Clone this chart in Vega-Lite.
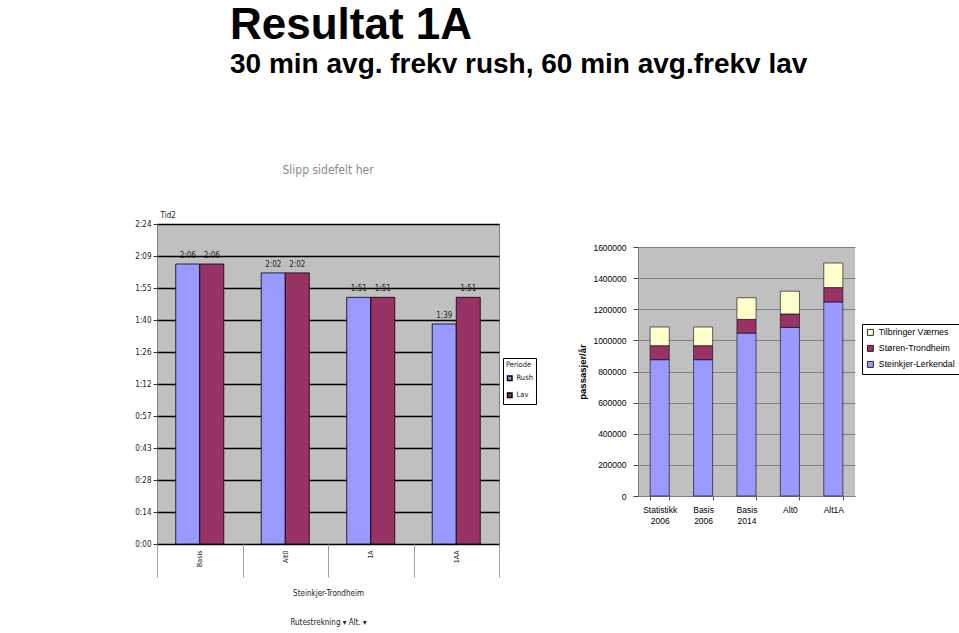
{
  "$schema": "https://vega.github.io/schema/vega-lite/v6.json",
  "background": "white",
  "padding": {"left": 134, "top": 3, "right": 0, "bottom": 0},
  "config": {"font": "Liberation Sans"},
  "resolve": {"scale": {"color": "independent"}, "legend": {"color": "independent"}},
  "title": {
    "text": "Resultat 1A",
    "subtitle": "30 min avg. frekv rush, 60 min avg.frekv lav",
    "anchor": "start",
    "frame": "group",
    "dx": 73,
    "font": "Liberation Sans",
    "fontSize": 44,
    "fontWeight": "bold",
    "color": "black",
    "subtitleFont": "Liberation Sans",
    "subtitleFontSize": 28,
    "subtitleFontWeight": "bold",
    "subtitleColor": "black",
    "subtitlePadding": 3,
    "offset": 85
  },
  "spacing": 40,
  "hconcat": [
    {
      "width": 342,
      "height": 320,
      "title": {"text": "Slipp sidefelt her", "fontSize": 12, "fontWeight": "normal", "color": "#8a8a8a", "font": "Liberation Sans Narrow, DejaVu Sans Condensed, Liberation Sans, sans-serif", "offset": 34},
      "data": {
        "values": [
          {"Scenario": "Basis", "Periode": "Rush", "Tid": 126},
          {"Scenario": "Basis", "Periode": "Lav", "Tid": 126},
          {"Scenario": "Alt0", "Periode": "Rush", "Tid": 122},
          {"Scenario": "Alt0", "Periode": "Lav", "Tid": 122},
          {"Scenario": "1A", "Periode": "Rush", "Tid": 111},
          {"Scenario": "1A", "Periode": "Lav", "Tid": 111},
          {"Scenario": "1AA", "Periode": "Rush", "Tid": 99},
          {"Scenario": "1AA", "Periode": "Lav", "Tid": 111}
        ]
      },
      "transform": [
        {"calculate": "floor(datum.Tid/60) + ':' + (datum.Tid % 60 < 10 ? '0' : '') + (datum.Tid % 60)", "as": "lbl"}
      ],
      "encoding": {
        "x": {
          "field": "Scenario", "type": "nominal", "sort": ["Basis", "Alt0", "1A", "1AA"],
          "scale": {"paddingInner": 0, "paddingOuter": 0},
          "axis": {
            "title": ["Steinkjer-Trondheim", "Rutestrekning ▾  Alt. ▾"],
            "titleFont": "Liberation Sans Narrow, DejaVu Sans Condensed, Liberation Sans, sans-serif", "titleFontSize": 8, "titleFontWeight": "normal",
            "titleLineHeight": 29, "titlePadding": 12, "titleColor": "#222",
            "labelAngle": 270, "labelAlign": "right", "labelBaseline": "middle",
            "labelFontSize": 7, "labelFont": "Liberation Sans Narrow, DejaVu Sans Condensed, Liberation Sans, sans-serif", "labelColor": "#222", "labelPadding": -27,
            "tickBand": "extent", "tickSize": 33, "tickColor": "#a0a0a0", "domain": false, "grid": false
          }
        },
        "xOffset": {"field": "Periode", "type": "nominal", "sort": ["Rush", "Lav"], "scale": {"paddingOuter": 0.78, "paddingInner": 0}},
        "y": {
          "field": "Tid", "type": "quantitative",
          "scale": {"domain": [0, 144], "nice": false},
          "axis": {
            "title": "Tid2", "titleAngle": 0, "titleAlign": "left", "titleBaseline": "bottom",
            "titleX": 3, "titleY": -5, "titleFontSize": 8, "titleFontWeight": "normal",
            "titleFont": "Liberation Sans Narrow, DejaVu Sans Condensed, Liberation Sans, sans-serif", "titleColor": "#222",
            "values": [0, 14.4, 28.8, 43.2, 57.6, 72, 86.4, 100.8, 115.2, 129.6, 144],
            "labelExpr": "floor(datum.value/60) + ':' + (floor(datum.value % 60 + 0.001) < 10 ? '0' : '') + floor(datum.value % 60 + 0.001)",
            "labelFont": "Liberation Sans Narrow, DejaVu Sans Condensed, Liberation Sans, sans-serif", "labelFontSize": 8, "labelColor": "#222", "labelPadding": 2,
            "grid": true, "gridColor": "black", "gridWidth": 1.3, "domain": false,
            "tickColor": "#333", "tickSize": 4
          }
        }
      },
      "layer": [
        {
          "mark": {"type": "bar", "stroke": "black", "strokeWidth": 0.8},
          "encoding": {
            "color": {
              "field": "Periode", "type": "nominal",
              "scale": {"domain": ["Rush", "Lav"], "range": ["#9999FF", "#993366"]},
              "legend": {
                "title": "Periode", "orient": "none", "legendX": 346, "legendY": 134,
                "strokeColor": "black", "fillColor": "white", "padding": 3,
                "titleFont": "Liberation Sans Narrow, DejaVu Sans Condensed, Liberation Sans, sans-serif", "titleFontSize": 7.5, "titleFontWeight": "normal", "titleColor": "#222", "titlePadding": 6,
                "labelFont": "Liberation Sans Narrow, DejaVu Sans Condensed, Liberation Sans, sans-serif", "labelFontSize": 7.5, "labelColor": "#222", "labelOffset": 3,
                "symbolType": "square", "symbolSize": 20, "rowPadding": 6
              }
            }
          }
        },
        {
          "mark": {"type": "text", "baseline": "bottom", "dy": -4, "fontSize": 8, "font": "Liberation Sans Narrow, DejaVu Sans Condensed, Liberation Sans, sans-serif", "color": "#222"},
          "encoding": {"text": {"field": "lbl"}}
        }
      ],
      "view": {"fill": "#C0C0C0", "stroke": "#808080"}
    },
    {
      "spacing": 0,
      "vconcat": [
        {
          "width": 217,
          "height": 19,
          "data": {"values": [{}]},
          "mark": "text",
          "encoding": {"text": {"value": ""}},
          "view": {"stroke": null}
        },
        {
          "width": 217,
          "height": 249,
          "data": {
            "values": [
              {"Kategori": "Statistikk 2006", "Strekning": "Steinkjer-Lerkendal", "Passasjerer": 876000},
              {"Kategori": "Statistikk 2006", "Strekning": "Støren-Trondheim", "Passasjerer": 90000},
              {"Kategori": "Statistikk 2006", "Strekning": "Tilbringer Værnes", "Passasjerer": 120000},
              {"Kategori": "Basis 2006", "Strekning": "Steinkjer-Lerkendal", "Passasjerer": 876000},
              {"Kategori": "Basis 2006", "Strekning": "Støren-Trondheim", "Passasjerer": 90000},
              {"Kategori": "Basis 2006", "Strekning": "Tilbringer Værnes", "Passasjerer": 120000},
              {"Kategori": "Basis 2014", "Strekning": "Steinkjer-Lerkendal", "Passasjerer": 1047000},
              {"Kategori": "Basis 2014", "Strekning": "Støren-Trondheim", "Passasjerer": 88000},
              {"Kategori": "Basis 2014", "Strekning": "Tilbringer Værnes", "Passasjerer": 139000},
              {"Kategori": "Alt0", "Strekning": "Steinkjer-Lerkendal", "Passasjerer": 1084000},
              {"Kategori": "Alt0", "Strekning": "Støren-Trondheim", "Passasjerer": 86000},
              {"Kategori": "Alt0", "Strekning": "Tilbringer Værnes", "Passasjerer": 146000},
              {"Kategori": "Alt1A", "Strekning": "Steinkjer-Lerkendal", "Passasjerer": 1247000},
              {"Kategori": "Alt1A", "Strekning": "Støren-Trondheim", "Passasjerer": 92000},
              {"Kategori": "Alt1A", "Strekning": "Tilbringer Værnes", "Passasjerer": 158000}
            ]
          },
          "mark": {"type": "bar", "stroke": "black", "strokeWidth": 0.6},
          "encoding": {
            "x": {
              "field": "Kategori", "type": "nominal", "sort": null,
              "scale": {"paddingInner": 0.56, "paddingOuter": 0.28},
              "axis": {
                "title": null, "labelAngle": 0, "labelExpr": "split(datum.label, ' ')",
                "labelFontSize": 8.5, "labelLineHeight": 11, "labelColor": "black", "labelPadding": 5,
                "tickBand": "extent", "tickSize": 4, "tickColor": "#555", "domainColor": "#808080"
              }
            },
            "y": {
              "field": "Passasjerer", "type": "quantitative", "stack": "zero",
              "scale": {"domain": [0, 1600000], "nice": false},
              "axis": {
                "title": "passasjer/år", "titleFontSize": 9.5, "titleFontWeight": "bold", "titleColor": "black", "titlePadding": 5,
                "values": [0, 200000, 400000, 600000, 800000, 1000000, 1200000, 1400000, 1600000],
                "format": "d", "labelFontSize": 8.5, "labelColor": "black", "labelPadding": 7,
                "tickSize": 5, "tickColor": "#444",
                "grid": true, "gridColor": "#808080", "domainColor": "#808080"
              }
            },
            "order": {"field": "Strekning", "sort": "ascending"},
            "color": {
              "field": "Strekning", "type": "nominal",
              "scale": {"domain": ["Tilbringer Værnes", "Støren-Trondheim", "Steinkjer-Lerkendal"], "range": ["#FFFFCC", "#993366", "#9999FF"]},
              "legend": {
                "title": null, "orient": "none", "legendX": 224, "legendY": 100,
                "strokeColor": "black", "fillColor": "white", "padding": 4,
                "labelFontSize": 8.8, "labelColor": "black", "labelOffset": 4,
                "symbolType": "square", "symbolSize": 36, "symbolStrokeColor": "black", "symbolStrokeWidth": 0.8,
                "rowPadding": 5
              }
            }
          },
          "view": {"fill": "#C0C0C0", "stroke": null}
        }
      ]
    }
  ]
}
